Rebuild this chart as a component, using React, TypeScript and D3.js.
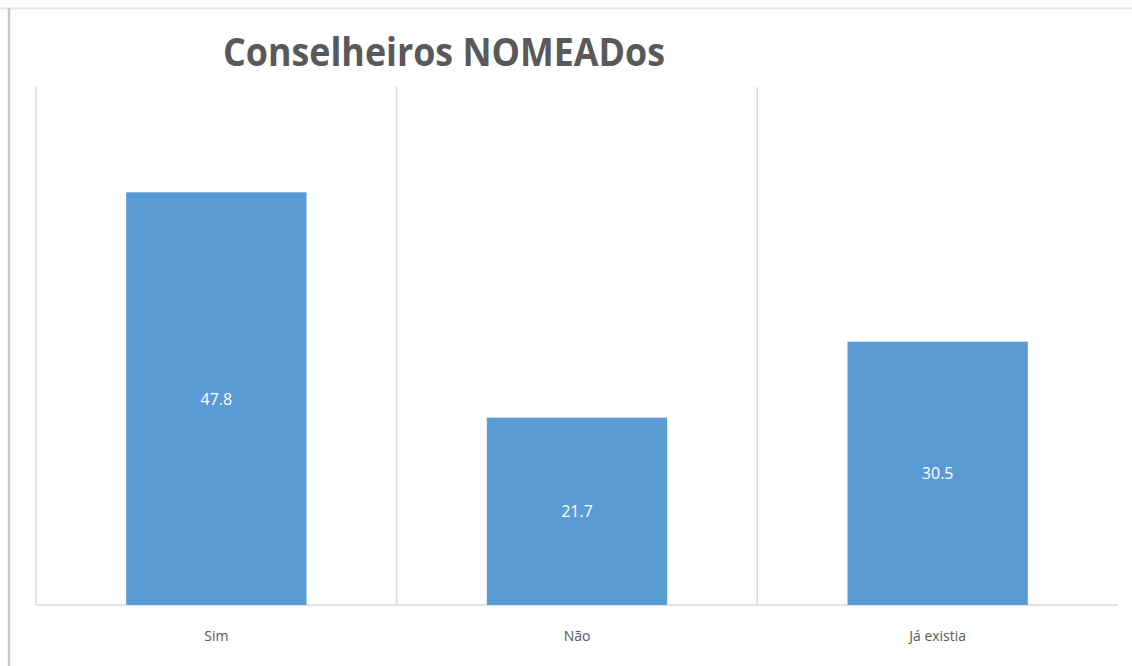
import React from "react";
import * as d3 from "d3";

const categories = ["Sim", "Não", "Já existia"];
const values = [47.8, 21.7, 30.5];
const yMax = 60;
const title = "Conselheiros NOMEADos";

export default function App() {
  const W = 1132, H = 666;
  const left = 36, right = 1118, top = 87, bottom = 605;
  const x = d3.scaleBand<string>().domain(categories).range([left, right]).padding(0);
  const y = d3.scaleLinear().domain([0, yMax]).range([bottom, top]);
  const bw = x.bandwidth() * 0.5;
  const font = "'Open Sans', 'Noto Sans', sans-serif";
  return (
    <svg width={W} height={H} style={{ position: "absolute", left: 0, top: 0, background: "#fff" }}>
      <rect x={0} y={0} width={W} height={H} fill="#fff" />
      <line x1={0} x2={W} y1={8.5} y2={8.5} stroke="#e6e6e6" strokeWidth={2} />
      <line x1={9} x2={9} y1={8} y2={H} stroke="#c8c8c8" strokeWidth={2.5} />
      {categories.map((c) => (
        <line key={"g" + c} x1={x(c)!} x2={x(c)!} y1={top} y2={bottom} stroke="#d9d9d9" strokeWidth={1.5} />
      ))}
      <line x1={left} x2={right} y1={bottom} y2={bottom} stroke="#d9d9d9" strokeWidth={1.5} />
      {categories.map((c, i) => {
        const cx = x(c)! + x.bandwidth() / 2;
        return (
          <g key={c}>
            <rect x={cx - bw / 2} y={y(values[i])} width={bw} height={bottom - y(values[i])} fill="#5b9bd5" />
            <text x={cx} y={(y(values[i]) + bottom) / 2} textAnchor="middle" dominantBaseline="central"
              fill="#fff" fontSize={16} fontFamily={font}>{values[i].toFixed(1)}</text>
            <text x={cx} y={635} textAnchor="middle" dominantBaseline="central"
              fill="#595959" fontSize={14} fontFamily={font}>{c}</text>
          </g>
        );
      })}
      <text x={223} y={66} textLength={442} lengthAdjust="spacingAndGlyphs" fill="#595959"
        fontSize={39} fontWeight="bold" fontFamily={font}>{title}</text>
    </svg>
  );
}
